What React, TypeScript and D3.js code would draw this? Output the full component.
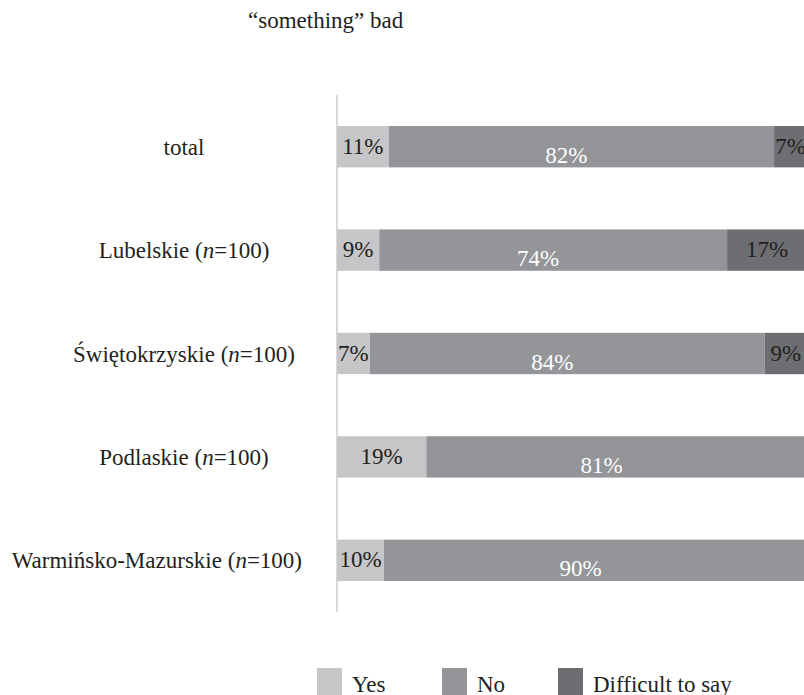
import React from "react";
import * as d3 from "d3";

const categories = [
  "total",
  "Lubelskie",
  "Świętokrzyskie",
  "Podlaskie",
  "Warmińsko-Mazurskie",
];
const sampleSizes = [null, 100, 100, 100, 100];
const yesValues = [11, 9, 7, 19, 10];
const noValues = [82, 74, 84, 81, 90];
const difficultValues = [7, 17, 9, 0, 0];
const seriesNames = ["Yes", "No", "Difficult to say"];
const seriesColors = ["#c6c6c8", "#939598", "#6d6e71"];
const title = "“something” bad";

const W = 804;
const H = 695;
const FONT = "'Liberation Serif', 'Times New Roman', serif";
const FS = 23;

function measure(text: string): number {
  if (typeof document === "undefined") return text.length * FS * 0.47;
  const c = document.createElement("canvas").getContext("2d");
  if (!c) return text.length * FS * 0.47;
  c.font = `${FS}px 'Liberation Serif'`;
  return c.measureText(text).width;
}

export default function App() {
  const x = d3.scaleLinear().domain([0, 100]).range([337, 807]);
  const y = d3
    .scaleBand<string>()
    .domain(categories)
    .range([95, 612])
    .paddingInner(0.6)
    .paddingOuter(0.3);
  const bh = y.bandwidth();

  const rows = categories.map((c, i) => {
    const vals = [yesValues[i], noValues[i], difficultValues[i]];
    let acc = 0;
    const segs = vals.map((v, k) => {
      const s = { k, v, x0: acc, x1: acc + v };
      acc += v;
      return s;
    });
    return { c, i, segs };
  });

  const labelCenter = 184;
  const labelMaxRight = 302;
  const legendX = [317, 442, 558];

  return (
    <svg
      width={W}
      height={H}
      style={{ position: "absolute", left: 0, top: 0, background: "#fff" }}
      fontFamily={FONT}
    >
      <rect x={0} y={0} width={W} height={H} fill="#fff" />
      <text x={248} y={28} fontSize={FS} fill="#231f20">
        {title}
      </text>
      <line x1={x(0)} x2={x(0)} y1={95} y2={612} stroke="#d9d9d9" strokeWidth={2} />
      {rows.map((r) => {
        const yy = y(r.c)!;
        const n = sampleSizes[r.i];
        const full = n ? `${r.c} (n=${n})` : r.c;
        const tw = measure(full);
        const startX = Math.max(8, Math.min(labelCenter - tw / 2, labelMaxRight - tw));
        return (
          <g key={r.c}>
            <text
              x={startX}
              y={yy + bh / 2 + 8}
              textAnchor="start"
              fontSize={FS}
              fill="#231f20"
            >
              {r.c}
              {n ? (
                <>
                  {" ("}
                  <tspan fontStyle="italic">n</tspan>
                  {`=${n})`}
                </>
              ) : null}
            </text>
            {r.segs.map((s) =>
              s.v > 0 ? (
                <rect
                  key={s.k}
                  x={x(s.x0)}
                  y={yy}
                  width={x(s.x1) - x(s.x0)}
                  height={bh}
                  fill={seriesColors[s.k]}
                />
              ) : null
            )}
            {r.segs.map((s) =>
              s.v > 0 ? (
                <text
                  key={"t" + s.k}
                  x={(x(s.x0) + x(s.x1)) / 2 - (s.k === 1 ? 15 : 0)}
                  y={yy + bh / 2 + (s.k === 1 ? 16 : 7)}
                  textAnchor="middle"
                  fontSize={FS}
                  fill={s.k === 1 ? "#ffffff" : "#231f20"}
                >
                  {s.v}%
                </text>
              ) : null
            )}
          </g>
        );
      })}
      {seriesNames.map((name, k) => (
        <g key={name}>
          <rect x={legendX[k]} y={668} width={25} height={27} fill={seriesColors[k]} />
          <text x={legendX[k] + 35} y={692} fontSize={FS} fill="#231f20">
            {name}
          </text>
        </g>
      ))}
    </svg>
  );
}
